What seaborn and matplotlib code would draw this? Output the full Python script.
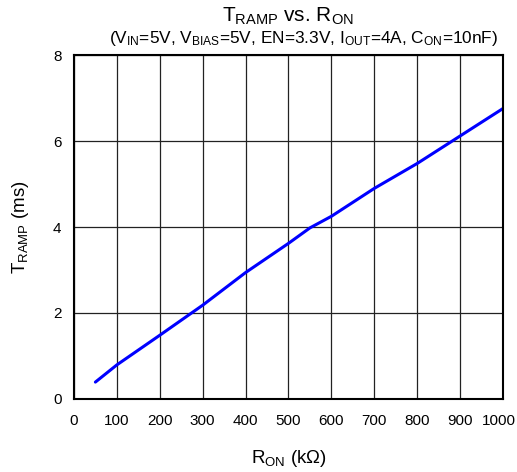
import numpy as np
import pandas as pd
import seaborn as sns
import matplotlib
matplotlib.use("Agg")
import matplotlib.pyplot as plt
import matplotlib.transforms as mtransforms

# values
r_on = [50, 100, 200, 300, 400, 500, 550, 600, 700, 800, 900, 1000]
t_ramp = [0.39, 0.79, 1.48, 2.18, 2.94, 3.62, 3.98, 4.25, 4.9, 5.48, 6.12, 6.76]

x_ticks = [0, 100, 200, 300, 400, 500, 600, 700, 800, 900, 1000]
y_ticks = [0, 2, 4, 6, 8]

sns.set_style("white")
plt.rcParams['font.family'] = ['Liberation Sans', 'DejaVu Sans']
plt.rcParams['mathtext.fontset'] = 'custom'
plt.rcParams['mathtext.rm'] = 'Liberation Sans'
plt.rcParams['mathtext.it'] = 'Liberation Sans'
plt.rcParams['text.color'] = 'black'
plt.rcParams['axes.labelcolor'] = 'black'

df = pd.DataFrame({"R_ON": r_on, "T_RAMP": t_ramp})

fig = plt.figure(figsize=(5.17, 4.72), dpi=100)
ax = fig.add_axes([0.143, 0.155, 0.830, 0.728])
sns.lineplot(data=df, x="R_ON", y="T_RAMP", color="#0000ff", linewidth=2.2, ax=ax)

ax.set_xlim(0, 1000)
ax.set_ylim(0, 8)
ax.set_xticks(x_ticks)
ax.set_yticks(y_ticks)
ax.grid(True, color="#222222", linewidth=0.9)
ax.set_axisbelow(True)
for s in ax.spines.values():
    s.set_color("black")
    s.set_linewidth(1.5)
ax.tick_params(axis='both', length=0, labelsize=11, colors='black')
ax.tick_params(axis='x', pad=11)
ax.tick_params(axis='y', pad=9)

# last x label sits a bit left so it stays inside the figure
last = ax.get_xticklabels()[-1]
last.set_transform(last.get_transform() + mtransforms.ScaledTranslation(-4 / 100, 0, fig.dpi_scale_trans))

ax.set_xlabel(r"R$_{\mathrm{ON}}$ (k$\Omega$)", fontsize=13.5, labelpad=14)
ax.set_ylabel(r"T$_{\mathrm{RAMP}}$ (ms)", fontsize=13.5, labelpad=16)

fig.text(0.557, 0.966, r"T$_{\mathrm{RAMP}}$ vs. R$_{\mathrm{ON}}$", ha='center', va='center', fontsize=15)
fig.text(0.588, 0.918,
         r"(V$_{\mathrm{IN}}$=5V, V$_{\mathrm{BIAS}}$=5V, EN=3.3V, I$_{\mathrm{OUT}}$=4A, C$_{\mathrm{ON}}$=10nF)",
         ha='center', va='center', fontsize=12.4)

fig.savefig("out.png", dpi=100)
